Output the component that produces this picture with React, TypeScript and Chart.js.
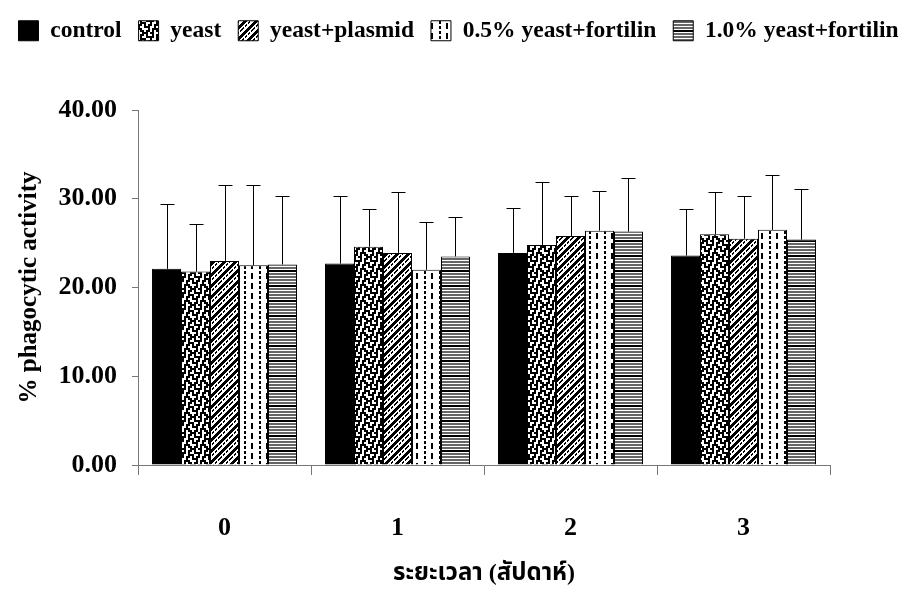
import React, { useEffect, useRef } from 'react';
import { Chart, registerables } from 'chart.js';

Chart.register(...registerables);

// ---------- data ----------
const categories = ['0', '1', '2', '3'];
const seriesNames = ['control', 'yeast', 'yeast+plasmid', '0.5% yeast+fortilin', '1.0% yeast+fortilin'];

const controlValues = [22.1, 22.7, 23.9, 23.6];
const controlErrors = [7.3, 7.6, 5.1, 5.2];
const yeastValues = [21.8, 24.6, 24.8, 26.0];
const yeastErrors = [5.4, 4.2, 7.1, 4.8];
const plasmidValues = [23.0, 23.9, 25.8, 25.5];
const plasmidErrors = [8.6, 6.9, 4.5, 4.8];
const halfFortilinValues = [22.5, 22.0, 26.4, 26.5];
const halfFortilinErrors = [9.1, 5.4, 4.5, 6.2];
const oneFortilinValues = [22.6, 23.5, 26.3, 25.4];
const oneFortilinErrors = [7.7, 4.5, 6.0, 5.7];

const yMin = 0;
const yMax = 40;
const yStep = 10;

const xTitle = 'ระยะเวลา (สัปดาห์)';
const yTitle = '% phagocytic activity';

// ---------- styles ----------
const FONT = "'Liberation Serif', 'Times New Roman', 'Noto Sans Thai', 'DejaVu Sans', serif";

function bitmapPattern(rows: string[], scale = 1): CanvasPattern | string {
  const h = rows.length;
  const w = rows[0].length;
  const c = document.createElement('canvas');
  c.width = w * scale;
  c.height = h * scale;
  const g = c.getContext('2d');
  if (!g) return '#888';
  g.fillStyle = '#fff';
  g.fillRect(0, 0, c.width, c.height);
  for (let y = 0; y < h; y++) {
    for (let x = 0; x < w; x++) {
      const ch = rows[y][x];
      if (ch === '#') g.fillStyle = '#000';
      else if (ch === '+') g.fillStyle = '#666';
      else continue;
      g.fillRect(x * scale, y * scale, scale, scale);
    }
  }
  return g.createPattern(c, 'repeat') || '#888';
}

const yeastTile = [
  '##.##..#',
  '.#..#.##',
  '.####.#.',
  '#..#..##',
  '#.##.##.',
  '###..#..',
  '..#.###.',
  '.##.#.##',
];

function plasmidTile(): string[] {
  const n = 11;
  const rows: string[] = [];
  for (let y = 0; y < n; y++) {
    let r = '';
    for (let x = 0; x < n; x++) {
      const d = (x + y) % n;
      if (d <= 3) r += '#';
      else if ((d === 6 || d === 7) && x % 3 !== 2) r += '#';
      else r += '.';
    }
    rows.push(r);
  }
  return rows;
}

const halfTile = [
  '...............',
  '....##.........',
  '....##.........',
  '....##.....##..',
  '...........##..',
  '...........##..',
  '....##.....##..',
  '....##.....##..',
  '....##.....##..',
  '...............',
];

const oneTile = [
  '####',
  '####',
  '....',
  '++++',
  '++++',
  '....',
  '++++',
  '++++',
  '....',
  '++++',
  '++++',
  '....',
  '++++',
  '++++',
  '....',
];

const errorBarPlugin = {
  id: 'errorBars',
  afterDatasetsDraw(chart: any) {
    const ctx = chart.ctx;
    const yScale = chart.scales.y;
    chart.data.datasets.forEach((ds: any, i: number) => {
      const meta = chart.getDatasetMeta(i);
      meta.data.forEach((bar: any, j: number) => {
        const v = ds.data[j];
        const e = ds.errors[j];
        const top = Math.round(yScale.getPixelForValue(v + e)) + 0.5;
        const x = Math.round(bar.x) + 0.5;
        ctx.save();
        ctx.strokeStyle = '#000';
        ctx.lineWidth = 1;
        ctx.beginPath();
        ctx.moveTo(x, bar.y);
        ctx.lineTo(x, top);
        ctx.moveTo(x - 7, top);
        ctx.lineTo(x + 7, top);
        ctx.stroke();
        ctx.restore();
      });
    });
  },
};

export default function App() {
  const ref = useRef<HTMLCanvasElement | null>(null);

  useEffect(() => {
    if (!ref.current) return;
    const fills = [
      '#000',
      bitmapPattern(yeastTile, 2),
      bitmapPattern(plasmidTile()),
      bitmapPattern(halfTile),
      bitmapPattern(oneTile),
    ];
    const values = [controlValues, yeastValues, plasmidValues, halfFortilinValues, oneFortilinValues];
    const errors = [controlErrors, yeastErrors, plasmidErrors, halfFortilinErrors, oneFortilinErrors];

    const datasets = seriesNames.map((name, i) => ({
      label: name,
      data: values[i],
      errors: errors[i],
      backgroundColor: fills[i],
      borderColor: '#000',
      borderWidth: 1,
      xAxisID: 'x',
      yAxisID: 'y',
      categoryPercentage: 0.838,
      barPercentage: 1.0,
    }));

    const axisColor = '#777';

    const chart = new Chart(ref.current, {
      type: 'bar',
      data: { labels: categories, datasets: datasets as any },
      plugins: [errorBarPlugin],
      options: {
        responsive: false,
        animation: false,
        devicePixelRatio: 1,
        layout: { padding: { top: 2, left: 0, right: 0, bottom: 0 } },
        plugins: {
          tooltip: { enabled: false },
          legend: {
            position: 'top',
            labels: {
              boxWidth: 20,
              boxHeight: 20,
              padding: 17,
              color: '#000',
              font: { family: FONT, size: 23.5, weight: 'bold' },
            },
          },
        },
        scales: {
          x: {
            type: 'category',
            position: 'bottom',
            offset: true,
            grid: {
              offset: true,
              drawOnChartArea: false,
              drawTicks: true,
              tickLength: 10,
              color: axisColor,
            },
            border: { display: true, color: axisColor, width: 1 },
            ticks: {
              color: '#000',
              padding: 38,
              font: { family: FONT, size: 26, weight: 'bold' },
            },
            title: {
              display: true,
              text: xTitle,
              color: '#000',
              padding: { top: 0, bottom: 1 },
              font: { family: FONT, size: 24, weight: 'bold' },
            },
            afterFit: (s: any) => {
              s.height = 589 - 465;
            },
          },
          xTop: {
            type: 'linear',
            position: 'top',
            display: true,
            grid: { display: false },
            border: { display: false },
            ticks: { display: false },
            afterFit: (s: any) => {
              const lh = s.chart.legend ? s.chart.legend.height : 0;
              s.height = Math.max(0, 110 - 2 - lh);
            },
          },
          y: {
            type: 'linear',
            position: 'left',
            min: yMin,
            max: yMax,
            grid: {
              drawOnChartArea: false,
              drawTicks: true,
              tickLength: 6,
              color: axisColor,
            },
            border: { display: true, color: axisColor, width: 1 },
            ticks: {
              stepSize: yStep,
              color: '#000',
              padding: 15,
              font: { family: FONT, size: 26, weight: 'bold' },
              callback: (v: any) => Number(v).toFixed(2),
            },
            title: {
              display: true,
              text: yTitle,
              color: '#000',
              padding: { top: 15, bottom: 0 },
              font: { family: FONT, size: 25, weight: 'bold' },
            },
            afterFit: (s: any) => {
              s.width = 138;
            },
          },
          yRight: {
            type: 'linear',
            position: 'right',
            display: true,
            grid: { display: false },
            border: { display: false },
            ticks: { display: false },
            afterFit: (s: any) => {
              s.width = 917 - 830;
            },
          },
        },
      } as any,
    });
    return () => chart.destroy();
  }, []);

  return (
    <div style={{ position: 'absolute', left: 0, top: 0, width: 917, height: 589, background: '#fff' }}>
      <canvas ref={ref} width={917} height={589} style={{ display: 'block' }} />
    </div>
  );
}
